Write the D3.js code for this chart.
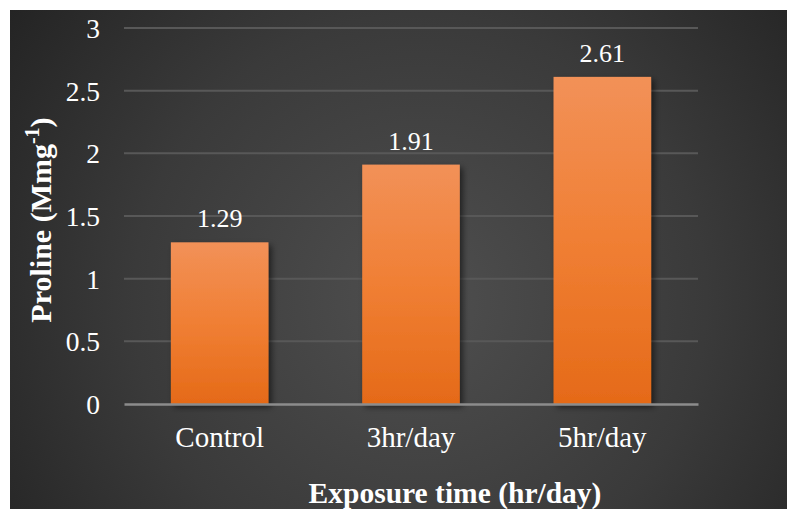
<!DOCTYPE html>
<html>
<head>
<meta charset="utf-8">
<script src="https://cdn.jsdelivr.net/npm/d3@7"></script>
<style>
  html, body { margin: 0; padding: 0; background: #ffffff; }
  svg { display: block; }
  text { font-family: "Liberation Serif", "Times New Roman", serif; fill: #ffffff; }
</style>
</head>
<body>
<script>
// Proline content by daily exposure time
const categories = ["Control", "3hr/day", "5hr/day"];
const prolineValues = [1.29, 1.91, 2.61];
const yTicks = [0, 0.5, 1, 1.5, 2, 2.5, 3];
const yTickLabels = ["0", "0.5", "1", "1.5", "2", "2.5", "3"];

const width = 787, height = 509;
const frame = { x: 10, y: 10, w: 777, h: 499 };
const plot = { left: 124, right: 698, top: 28, bottom: 404 };

const svg = d3.select("body").append("svg")
  .attr("width", width)
  .attr("height", height);

const defs = svg.append("defs");

// Dark radial background, lighter near the middle
const bg = defs.append("radialGradient")
  .attr("id", "bgGrad")
  .attr("gradientUnits", "userSpaceOnUse")
  .attr("cx", 420).attr("cy", 300).attr("r", 520);
bg.append("stop").attr("offset", "0%").attr("stop-color", "#4f4f4f");
bg.append("stop").attr("offset", "55%").attr("stop-color", "#3a3a3a");
bg.append("stop").attr("offset", "100%").attr("stop-color", "#222222");

// Orange bar fill, lighter at the top
const barGrad = defs.append("linearGradient")
  .attr("id", "barGrad")
  .attr("x1", 0).attr("y1", 0).attr("x2", 0).attr("y2", 1);
barGrad.append("stop").attr("offset", "0%").attr("stop-color", "#f29158");
barGrad.append("stop").attr("offset", "50%").attr("stop-color", "#f07f34");
barGrad.append("stop").attr("offset", "100%").attr("stop-color", "#e56a18");

const shadow = defs.append("filter")
  .attr("id", "barShadow")
  .attr("x", "-20%").attr("y", "-20%").attr("width", "150%").attr("height", "150%");
shadow.append("feDropShadow")
  .attr("dx", 3).attr("dy", 3).attr("stdDeviation", 3)
  .attr("flood-color", "#000000").attr("flood-opacity", 0.55);

svg.append("rect")
  .attr("x", frame.x).attr("y", frame.y)
  .attr("width", frame.w).attr("height", frame.h)
  .attr("fill", "url(#bgGrad)");

const x = d3.scaleBand()
  .domain(categories)
  .range([plot.left, plot.right])
  .paddingInner(0.49)
  .paddingOuter(0.245);

const y = d3.scaleLinear()
  .domain([0, 3])
  .range([plot.bottom, plot.top]);

// Horizontal gridlines
svg.append("g")
  .selectAll("line")
  .data(yTicks.filter(d => d > 0))
  .join("line")
  .attr("x1", plot.left).attr("x2", plot.right)
  .attr("y1", d => y(d)).attr("y2", d => y(d))
  .attr("stroke", "#585858")
  .attr("stroke-width", 2);

// Y axis labels
const yAxis = d3.axisLeft(y)
  .tickValues(yTicks)
  .tickFormat((d, i) => yTickLabels[i])
  .tickSize(0)
  .tickPadding(0);
const yg = svg.append("g")
  .attr("transform", `translate(${plot.left - 24},0)`)
  .call(yAxis);
yg.select(".domain").remove();
yg.selectAll("text")
  .attr("font-size", 27.5)
  .attr("fill", "#ffffff")
  .attr("dy", "0.34em");

// Bars
svg.append("g")
  .attr("filter", "url(#barShadow)")
  .selectAll("rect")
  .data(prolineValues)
  .join("rect")
  .attr("x", (d, i) => x(categories[i]))
  .attr("y", d => y(d))
  .attr("width", x.bandwidth())
  .attr("height", d => y(0) - y(d))
  .attr("fill", "url(#barGrad)");

// Value labels above bars
svg.append("g")
  .selectAll("text")
  .data(prolineValues)
  .join("text")
  .attr("x", (d, i) => x(categories[i]) + x.bandwidth() / 2)
  .attr("y", d => y(d) - 15)
  .attr("text-anchor", "middle")
  .attr("font-size", 26)
  .text(d => d.toFixed(2));

// X axis baseline and category labels
const xAxis = d3.axisBottom(x).tickSize(0).tickPadding(0);
const xg = svg.append("g")
  .attr("transform", `translate(0,${plot.bottom})`)
  .call(xAxis);
xg.select(".domain")
  .attr("stroke", "#8c8c8c")
  .attr("stroke-width", 2.5);
xg.selectAll("text")
  .attr("font-size", 29)
  .attr("fill", "#ffffff")
  .attr("dy", 0)
  .attr("y", 43);

// Axis titles
svg.append("text")
  .attr("x", 455)
  .attr("y", 503)
  .attr("text-anchor", "middle")
  .attr("font-size", 29.5)
  .attr("font-weight", "bold")
  .text("Exposure time (hr/day)");

const yTitle = svg.append("text")
  .attr("transform", "translate(51,220) rotate(-90)")
  .attr("text-anchor", "middle")
  .attr("font-size", 30)
  .attr("font-weight", "bold");
yTitle.append("tspan").text("Proline (Mmg");
yTitle.append("tspan").attr("font-size", 20).attr("dy", -12).text("-1");
yTitle.append("tspan").attr("dy", 12).text(")");
</script>
</body>
</html>
